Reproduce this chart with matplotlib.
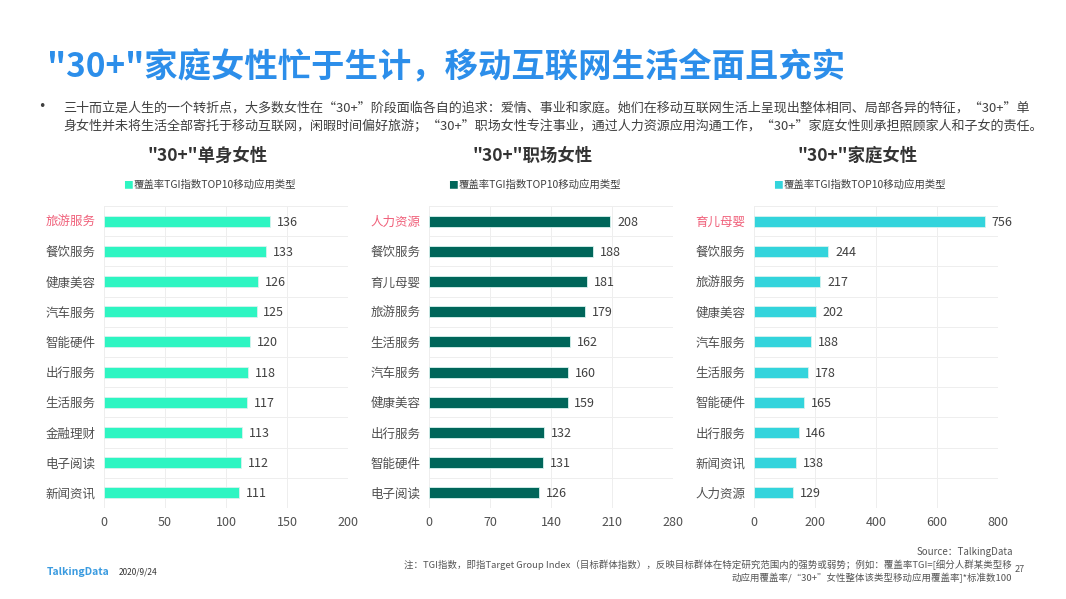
import numpy as np
import matplotlib
matplotlib.use("Agg")
import matplotlib.pyplot as plt

plt.rcParams['font.family'] = ['Noto Sans CJK SC', 'DejaVu Sans']

# data
single_cats = ['旅游服务', '餐饮服务', '健康美容', '汽车服务', '智能硬件', '出行服务', '生活服务', '金融理财', '电子阅读', '新闻资讯']
single_vals = [136, 133, 126, 125, 120, 118, 117, 113, 112, 111]

work_cats = ['人力资源', '餐饮服务', '育儿母婴', '旅游服务', '生活服务', '汽车服务', '健康美容', '出行服务', '智能硬件', '电子阅读']
work_vals = [208, 188, 181, 179, 162, 160, 159, 132, 131, 126]

family_cats = ['育儿母婴', '餐饮服务', '旅游服务', '健康美容', '汽车服务', '生活服务', '智能硬件', '出行服务', '新闻资讯', '人力资源']
family_vals = [756, 244, 217, 202, 188, 178, 165, 146, 138, 129]

panel_titles = ['"30+"单身女性', '"30+"职场女性', '"30+"家庭女性']
legend_label = '覆盖率TGI指数TOP10移动应用类型'
xticks_list = [[0, 50, 100, 150, 200], [0, 70, 140, 210, 280], [0, 200, 400, 600, 800]]

W, H = 1066, 599
fig = plt.figure(figsize=(W / 100, H / 100), dpi=100)

def px(x, y):
    return x / W, 1 - y / H

# title
fig.text(*px(47, 68), '"30+"家庭女性忙于生计，移动互联网生活全面且充实', fontsize=24,
         fontweight='bold', color='#2C8EEA', va='center', ha='left')

# bullet text
fig.text(*px(42, 107), '•', fontsize=9, family='DejaVu Sans', color='#404040', va='center', ha='center')
fig.text(*px(63, 108), '三十而立是人生的一个转折点，大多数女性在“30+”阶段面临各自的追求：爱情、事业和家庭。她们在移动互联网生活上呈现出整体相同、局部各异的特征，“30+”单',
         fontsize=9.4, color='#404040', va='center')
fig.text(*px(63, 126), '身女性并未将生活全部寄托于移动互联网，闲暇时间偏好旅游；“30+”职场女性专注事业，通过人力资源应用沟通工作，“30+”家庭女性则承担照顾家人和子女的责任。',
         fontsize=9.4, color='#404040', va='center')

panels = [
    (single_cats, single_vals, '#2EF5C2', 104),
    (work_cats, work_vals, '#00665A', 429),
    (family_cats, family_vals, '#33D4DC', 754),
]
title_x = [208, 533, 858]

for i, (cats, vals, color, left) in enumerate(panels):
    ax = fig.add_axes([left / W, (H - 508) / H, 244 / W, 302 / H])
    y = np.arange(len(cats))
    ax.barh(y, vals, height=0.36, color=color, edgecolor='#d8f3ef', linewidth=0.6, zorder=3)
    xt = xticks_list[i]
    ax.set_xlim(xt[0], xt[-1])
    ax.set_ylim(len(cats) - 0.5, -0.5)
    ax.set_xticks(xt)
    ax.set_yticks(y)
    ax.set_yticklabels(cats)
    ax.set_yticks(np.arange(-0.5, len(cats)), minor=True)
    ax.tick_params(axis='both', which='both', length=0, labelsize=9, colors='#505050')
    ax.tick_params(axis='y', pad=6)
    ax.tick_params(axis='x', pad=6)
    ax.get_yticklabels()[0].set_color('#F0607A')
    ax.grid(axis='x', which='major', color='#eeeeee', linewidth=0.7, zorder=0)
    ax.grid(axis='y', which='minor', color='#eeeeee', linewidth=0.7, zorder=0)
    for s in ax.spines.values():
        s.set_visible(False)
    span = xt[-1] - xt[0]
    for yi, v in zip(y, vals):
        ax.text(v + span * 0.028, yi + 0.03, str(v), va='center', ha='left', fontsize=9, color='#404040')

    fig.text(*px(title_x[i], 156), panel_titles[i], fontsize=12.5, fontweight='bold',
             color='#333333', ha='center', va='center')
    # legend
    lx = title_x[i] + 2
    fig.text(*px(lx - 82, 185), '■', fontsize=7, color=color, ha='center', va='center')
    fig.text(*px(lx + 5, 185), legend_label, fontsize=7.5, color='#404040', ha='center', va='center')

# footer
fig.text(*px(47, 572), 'TalkingData', fontsize=7.5, fontweight='bold', color='#3A9BE0', va='center')
fig.text(*px(119, 572), '2020/9/24', fontsize=6, color='#333333', va='center')
fig.text(*px(1013, 552), 'Source：TalkingData', fontsize=7, style='italic', color='#555555', ha='right', va='center')
fig.text(*px(1012, 565), '注：TGI指数，即指Target Group Index（目标群体指数），反映目标群体在特定研究范围内的强势或弱势；例如：覆盖率TGI=[细分人群某类型移',
         fontsize=6.8, style='italic', color='#555555', ha='right', va='center')
fig.text(*px(1012, 578), '动应用覆盖率/“30+”女性整体该类型移动应用覆盖率]*标准数100',
         fontsize=6.8, style='italic', color='#555555', ha='right', va='center')
fig.text(*px(1025, 569), '27', fontsize=6.5, color='#555555', ha='right', va='center')

fig.savefig('out.png', dpi=100)
